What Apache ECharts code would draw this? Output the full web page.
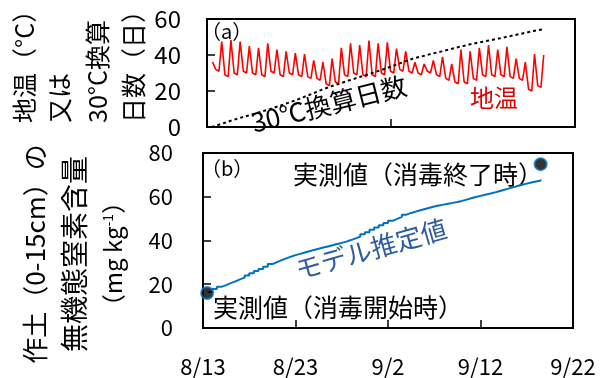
<!DOCTYPE html>
<html><head><meta charset="utf-8">
<script src="https://cdn.jsdelivr.net/npm/echarts@6/dist/echarts.min.js"></script>
<style>html,body{margin:0;padding:0;background:#fff}#c{width:601px;height:378px}</style>
</head><body><div id="c"></div>
<script>
// x axis: days since 8/13
const xTickLabels = ['8/13', '8/23', '9/2', '9/12', '9/22'];

// daily soil temperature (°C), day 0 = 8/13: morning minimum, afternoon maximum, late-evening level
const tempMin = [null, 31, 28, 29, 30, 29, 28, 30, 28, 29, 28, 27, 26, 23, 24, 28, 29, 28, 28, 29,
  30, 31, 30, 29, 30, 28, 26, 24, 24, 26, 28, 28, 28, 27, 26, 20, 22];
const tempMax = [36, 47.5, 48.3, 47.4, 45, 44, 46.5, 43, 42, 41, 40.5, 37, 36, 38, 44, 46.5, 45.5, 48, 46.5, 47,
  43.5, 42, 36, 35, 37, 39, 35, 43, 42, 44, 45.5, 43, 44.5, 38, 36, 40.5, 40];
const tempEve = [32, 29, 30, 31, 30, 29, 31, 29, 30, 29, 28, 27, 24, 25, 29, 30, 29, 29, 30, 31,
  32, 31, 30, 31, 29, 27, 25, 25, 27, 29, 29, 29, 28, 27, 21, 23, null];

// 30°C-equivalent days (cumulative), one value per day at midday
const degreeDays = [0, 1.6, 3.3, 4.9, 6.4, 7.9, 9.4, 11.1, 12.8, 14.6, 16.6, 18.6, 20.8, 22.6, 24.2, 26.0,
  27.6, 29.2, 30.9, 32.6, 34.5, 36.4, 38.2, 39.4, 40.8, 42.0, 43.3, 44.6, 45.8, 46.9, 47.9, 48.9, 50.0,
  51.1, 52.2, 53.3, 54.3];

// model estimate of inorganic N (mg/kg), every half day from day 0.5
const modelValues = [16.5, 17.8, 18.8, 19.6, 20.5, 21.3, 22.2, 23.0, 24.0, 25.0, 26.0, 27.0, 28.0, 29.2,
  30.1, 31.0, 31.8, 32.6, 33.3, 33.9, 34.5, 35.1, 35.7, 36.2, 36.8, 37.3, 37.8, 38.4, 38.9, 39.5, 40.2,
  41.0, 41.8, 42.8, 43.8, 44.9, 45.9, 47.0, 48.0, 49.0, 49.9, 50.8, 51.8, 52.6, 53.2, 53.8, 54.4, 55.0,
  55.5, 56.0, 56.4, 56.8, 57.2, 57.6, 58.1, 58.7, 59.3, 59.9, 60.4, 60.9, 61.4, 61.9, 62.5, 63.1, 63.7,
  64.3, 64.9, 65.5, 66.0, 66.5, 67.0, 67.4, 67.9];

// measured values: start and end of soil disinfection
const measuredDays = [0.45, 36.5];
const measuredValues = [16.0, 74.9];

const FONT = "'Noto Sans CJK JP', sans-serif";

const tempData = [];
tempMax.forEach((mx, d) => {
  if (tempMin[d] !== null) tempData.push([d + 0.3, tempMin[d]]);
  tempData.push([d + 0.6, mx]);
  if (tempEve[d] !== null) tempData.push([d + 0.95, tempEve[d]]);
});
const ddData = degreeDays.map((v, d) => [d + 0.5, v]);
const modelData = modelValues.map((v, i) => [0.5 + i * 0.5, v]);
const measData = measuredValues.map((v, i) => [measuredDays[i], v]);

function xAxisCfg(gridIndex, interval, showLabel) {
  return {
    type: 'value', gridIndex, min: 0, max: 40, interval,
    axisLine: { show: true, lineStyle: { color: '#000', width: 2 } },
    axisTick: { show: true, inside: true, length: 8, lineStyle: { color: '#000', width: 1.5 } },
    axisLabel: {
      show: showLabel, margin: 28, color: '#000', fontSize: 22, fontFamily: FONT,
      formatter: v => xTickLabels[Math.round(v / 10)]
    },
    splitLine: { show: false }
  };
}
function yAxisCfg(gridIndex, max, fontSize, margin, padTop) {
  return {
    type: 'value', gridIndex, min: 0, max, interval: 20,
    axisLine: { show: true, lineStyle: { color: '#000', width: 2 } },
    axisTick: { show: true, inside: true, length: 8, lineStyle: { color: '#000', width: 1.5 } },
    axisLabel: { margin, color: '#000', fontSize, fontFamily: FONT, padding: [padTop, 0, 0, 0] },
    splitLine: { show: false }
  };
}

function vText(x, y, text, size, align) {
  return {
    type: 'text', x, y, rotation: Math.PI / 2,
    style: { text, fill: '#000', fontSize: size, fontFamily: FONT, align: align, verticalAlign: 'middle' }
  };
}
function hText(x, y, text, size, color, align, rotDeg) {
  return {
    type: 'text', x, y, rotation: (rotDeg || 0) * Math.PI / 180,
    style: { text, fill: color, fontSize: size, fontFamily: FONT, align: align || 'left', verticalAlign: 'middle' }
  };
}

const chart = echarts.init(document.getElementById('c'), null, { renderer: 'canvas' });
chart.setOption({
  animation: false,
  backgroundColor: '#fff',
  grid: [
    { left: 207, top: 19, width: 368, height: 108, show: true, borderColor: '#000', borderWidth: 2 },
    { left: 203, top: 153, width: 370, height: 176, show: true, borderColor: '#000', borderWidth: 2 }
  ],
  xAxis: [xAxisCfg(0, 20, false), xAxisCfg(1, 10, true)],
  yAxis: [yAxisCfg(0, 60, 24, 26, 6), yAxisCfg(1, 80, 22, 30, 0)],
  series: [
    { type: 'line', xAxisIndex: 0, yAxisIndex: 0, data: tempData, showSymbol: false,
      lineStyle: { color: '#ff0000', width: 1.6 }, z: 3 },
    { type: 'line', xAxisIndex: 0, yAxisIndex: 0, data: ddData, showSymbol: false,
      lineStyle: { color: '#000', width: 2, type: [3, 3] }, z: 4 },
    { type: 'line', xAxisIndex: 1, yAxisIndex: 1, data: modelData, showSymbol: false, step: 'end',
      lineStyle: { color: '#0070c0', width: 2 }, z: 3 },
    { type: 'scatter', xAxisIndex: 1, yAxisIndex: 1, data: measData, symbolSize: 12, clip: false,
      itemStyle: { color: '#000', borderColor: '#0070c0', borderWidth: 2 }, z: 5 }
  ],
  graphic: [
    // top y-axis title (4 columns, reading bottom to top)
    vText(24, 123, '地温（°C）', 25, 'left'),
    vText(59, 123, '又は', 25, 'left'),
    vText(97, 123, '30°C換算', 25, 'left'),
    vText(133, 123, '日数（日）', 25, 'left'),
    // bottom y-axis title
    vText(35, 254, '作土（0-15cm）の', 26, 'center'),
    vText(74, 254, '無機態窒素含量', 28, 'center'),
    { type: 'text', x: 113, y: 254, rotation: Math.PI / 2,
      style: { text: '（mg kg{sup|-1}）', fill: '#000', fontSize: 24, fontFamily: FONT, align: 'center', verticalAlign: 'middle',
        rich: { sup: { fontSize: 14, fontFamily: FONT, verticalAlign: 'top', fill: '#000' } } } },
    // panel labels
    hText(201, 31, '（a）', 20, '#000'),
    hText(201, 168, '（b）', 20, '#000'),
    // in-plot annotations
    hText(329, 104, '30℃換算日数', 26, '#000', 'center', 14),
    hText(494, 98, '地温', 24, '#dd0000', 'center'),
    hText(293, 174, '実測値（消毒終了時）', 25, '#000'),
    hText(213, 307, '実測値（消毒開始時）', 25, '#000'),
    hText(371, 249, 'モデル推定値', 26, '#2e5c9e', 'center', 16)
  ]
});
</script></body></html>
